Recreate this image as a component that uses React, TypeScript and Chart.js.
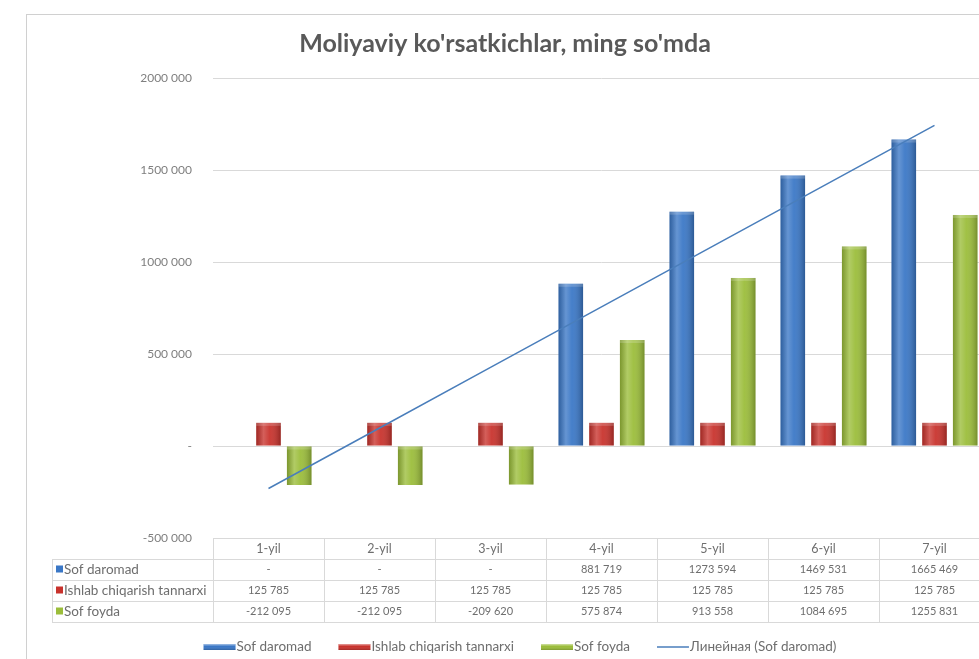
import React, { useEffect, useRef } from "react";
import { Chart, registerables } from "chart.js";

Chart.register(...registerables);

const categories = ["1-yil", "2-yil", "3-yil", "4-yil", "5-yil", "6-yil", "7-yil"];
const sofDaromad = [0, 0, 0, 881719, 1273594, 1469531, 1665469];
const ishlabChiqarish = [125785, 125785, 125785, 125785, 125785, 125785, 125785];
const sofFoyda = [-212095, -212095, -209620, 575874, 913558, 1084695, 1255831];
const seriesNames = ["Sof daromad", "Ishlab chiqarish tannarxi", "Sof foyda"];
const trendName = "Линейная (Sof daromad)";
const titleText = "Moliyaviy ko'rsatkichlar, ming so'mda";
const yMin = -500000;
const yMax = 2000000;
const yStep = 500000;

const seriesColors = ["#3a77c6", "#c8322c", "#9bbd3a"];
const trendColor = "#4a7ebb";

function fmt(v: number): string {
  if (v === 0) return "-";
  const neg = v < 0;
  const s = Math.abs(Math.round(v)).toString();
  const out = s.length > 3 ? s.slice(0, -3) + " " + s.slice(-3) : s;
  return (neg ? "-" : "") + out;
}

// Linear trendline (least squares) of Sof daromad, like Excel's linear trendline
function linearTrend(vals: number[]): number[] {
  const n = vals.length;
  const xs = vals.map((_, i) => i + 1);
  const mx = xs.reduce((a, b) => a + b, 0) / n;
  const my = vals.reduce((a, b) => a + b, 0) / n;
  let sxy = 0, sxx = 0;
  for (let i = 0; i < n; i++) {
    sxy += (xs[i] - mx) * (vals[i] - my);
    sxx += (xs[i] - mx) * (xs[i] - mx);
  }
  const b = sxy / sxx;
  const a = my - b * mx;
  return xs.map((x) => a + b * x);
}

const trend = linearTrend(sofDaromad);

const FONT = "Lato, 'Open Sans', sans-serif";
const TEXT = "#6e6e6e";
const GRID = "#d9d9d9";

const drawPlugin = {
  id: "excelLook",
  beforeDraw(chart: any) {
    const ctx = chart.ctx as CanvasRenderingContext2D;
    ctx.save();
    ctx.fillStyle = "#ffffff";
    ctx.fillRect(0, 0, chart.width, chart.height);
    ctx.strokeStyle = "#d0d0d0";
    ctx.lineWidth = 1;
    ctx.strokeRect(26.5, 14.5, 978, 700);
    ctx.fillStyle = "#595959";
    ctx.font = `bold 25px ${FONT}`;
    ctx.textAlign = "center";
    ctx.textBaseline = "middle";
    ctx.fillText(titleText, 505, 44);
    ctx.restore();
  },
  afterDatasetDraw(chart: any, args: any) {
    const meta = args.meta;
    if (meta.type !== "bar") return;
    const ctx = chart.ctx as CanvasRenderingContext2D;
    ctx.save();
    for (const el of meta.data) {
      const p = el.getProps(["x", "y", "base", "width"], true);
      const h = Math.abs(p.base - p.y);
      if (h < 0.5) continue;
      const left = p.x - p.width / 2;
      const top = Math.min(p.y, p.base);
      const g = ctx.createLinearGradient(left, 0, left + p.width, 0);
      g.addColorStop(0, "rgba(0,0,0,0.20)");
      g.addColorStop(0.3, "rgba(255,255,255,0.22)");
      g.addColorStop(0.55, "rgba(255,255,255,0.06)");
      g.addColorStop(1, "rgba(0,0,0,0.25)");
      ctx.fillStyle = g;
      ctx.fillRect(left, top, p.width, h);
      ctx.fillStyle = "rgba(255,255,255,0.18)";
      ctx.fillRect(left, top, p.width, Math.min(3, h));
    }
    ctx.restore();
  },
  afterDraw(chart: any) {
    const ctx = chart.ctx as CanvasRenderingContext2D;
    const x = chart.scales.x;
    const area = chart.chartArea;
    const n = categories.length;
    const catW = (area.right - area.left) / n;
    const tTop = area.bottom;
    const rowH = 21;
    const headerBottom = tTop + 21;
    const tableBottom = headerBottom + rowH * 3;
    const leftX = 52;
    ctx.save();
    ctx.strokeStyle = GRID;
    ctx.lineWidth = 1;
    ctx.beginPath();
    ctx.moveTo(area.left, tTop + 0.5);
    ctx.lineTo(area.right, tTop + 0.5);
    for (let r = 0; r <= 3; r++) {
      const yy = Math.round(headerBottom + r * rowH) + 0.5;
      ctx.moveTo(leftX, yy);
      ctx.lineTo(area.right, yy);
    }
    for (let c = 0; c <= n; c++) {
      const xx = Math.round(area.left + c * catW) + 0.5;
      ctx.moveTo(xx, tTop);
      ctx.lineTo(xx, tableBottom);
    }
    ctx.moveTo(leftX + 0.5, headerBottom);
    ctx.lineTo(leftX + 0.5, tableBottom);
    ctx.stroke();

    ctx.textBaseline = "middle";
    ctx.textAlign = "center";
    ctx.fillStyle = TEXT;
    ctx.font = `12.5px ${FONT}`;
    categories.forEach((c, i) => {
      ctx.fillText(c, x.getPixelForValue(i), tTop + 11);
    });
    const rows = [sofDaromad, ishlabChiqarish, sofFoyda];
    rows.forEach((vals, r) => {
      const cy = headerBottom + r * rowH + rowH / 2;
      ctx.textAlign = "center";
      ctx.fillStyle = TEXT;
      ctx.font = `11px ${FONT}`;
      vals.forEach((v, i) => {
        ctx.fillText(fmt(v), x.getPixelForValue(i), cy);
      });
      ctx.fillStyle = seriesColors[r];
      ctx.fillRect(leftX + 4, cy - 4, 7, 7);
      ctx.fillStyle = TEXT;
      ctx.textAlign = "left";
      ctx.font = `13.5px ${FONT}`;
      ctx.fillText(seriesNames[r], leftX + 12, cy);
    });

    const items = [
      { name: seriesNames[0], color: seriesColors[0], line: false },
      { name: seriesNames[1], color: seriesColors[1], line: false },
      { name: seriesNames[2], color: seriesColors[2], line: false },
      { name: trendName, color: trendColor, line: true },
    ];
    const keyW = 32;
    const gap = 27;
    ctx.font = `13.5px ${FONT}`;
    let total = 0;
    items.forEach((it, i) => {
      total += keyW + 1 + ctx.measureText(it.name).width + (i < items.length - 1 ? gap : 0);
    });
    let lx = 520 - total / 2;
    const ly = 647;
    items.forEach((it) => {
      if (it.line) {
        ctx.strokeStyle = it.color;
        ctx.lineWidth = 1.5;
        ctx.beginPath();
        ctx.moveTo(lx, ly);
        ctx.lineTo(lx + keyW, ly);
        ctx.stroke();
      } else {
        const g = ctx.createLinearGradient(0, ly - 3, 0, ly + 3);
        g.addColorStop(0, "rgba(255,255,255,0.55)");
        g.addColorStop(0.4, "rgba(255,255,255,0)");
        g.addColorStop(1, "rgba(0,0,0,0.2)");
        ctx.fillStyle = it.color;
        ctx.fillRect(lx, ly - 3, keyW, 6);
        ctx.fillStyle = g;
        ctx.fillRect(lx, ly - 3, keyW, 6);
      }
      lx += keyW + 1;
      ctx.fillStyle = TEXT;
      ctx.textAlign = "left";
      ctx.textBaseline = "middle";
      ctx.fillText(it.name, lx, ly);
      lx += ctx.measureText(it.name).width + gap;
    });
    ctx.restore();
  },
};

export default function App() {
  const ref = useRef<HTMLCanvasElement | null>(null);
  useEffect(() => {
    if (!ref.current) return;
    const chart = new Chart(ref.current, {
      type: "bar",
      data: {
        labels: categories,
        datasets: [
          {
            type: "bar",
            label: seriesNames[0],
            data: sofDaromad,
            backgroundColor: seriesColors[0],
            barPercentage: 0.8,
            categoryPercentage: 0.83,
          },
          {
            type: "bar",
            label: seriesNames[1],
            data: ishlabChiqarish,
            backgroundColor: seriesColors[1],
            barPercentage: 0.8,
            categoryPercentage: 0.83,
          },
          {
            type: "bar",
            label: seriesNames[2],
            data: sofFoyda,
            backgroundColor: seriesColors[2],
            barPercentage: 0.8,
            categoryPercentage: 0.83,
          },
          {
            type: "line",
            label: trendName,
            data: trend,
            borderColor: trendColor,
            borderWidth: 1.5,
            pointRadius: 0,
            tension: 0,
            fill: false,
            order: -1,
          } as any,
        ],
      },
      options: {
        animation: false,
        responsive: false,
        devicePixelRatio: 1,
        layout: { padding: { left: 0, top: 78, right: 20, bottom: 142 } },
        plugins: {
          legend: { display: false },
          tooltip: { enabled: false },
          title: { display: false },
        },
        scales: {
          x: { display: false, offset: true },
          y: {
            min: yMin,
            max: yMax,
            afterFit: (s: any) => {
              s.width = 213;
            },
            ticks: {
              stepSize: yStep,
              padding: 21,
              color: "#7f7f7f",
              font: { family: FONT, size: 12 },
              callback: (v: any) => fmt(Number(v)),
            },
            grid: { color: GRID, drawTicks: false },
            border: { display: false },
          },
        },
      },
      plugins: [drawPlugin],
    });
    return () => chart.destroy();
  }, []);
  return (
    <div
      style={{
        position: "fixed",
        left: 0,
        top: 0,
        width: 979,
        height: 659,
        overflow: "hidden",
        background: "#fff",
      }}
    >
      <canvas ref={ref} width={1010} height={680} style={{ width: 1010, height: 680, display: "block" }} />
    </div>
  );
}
